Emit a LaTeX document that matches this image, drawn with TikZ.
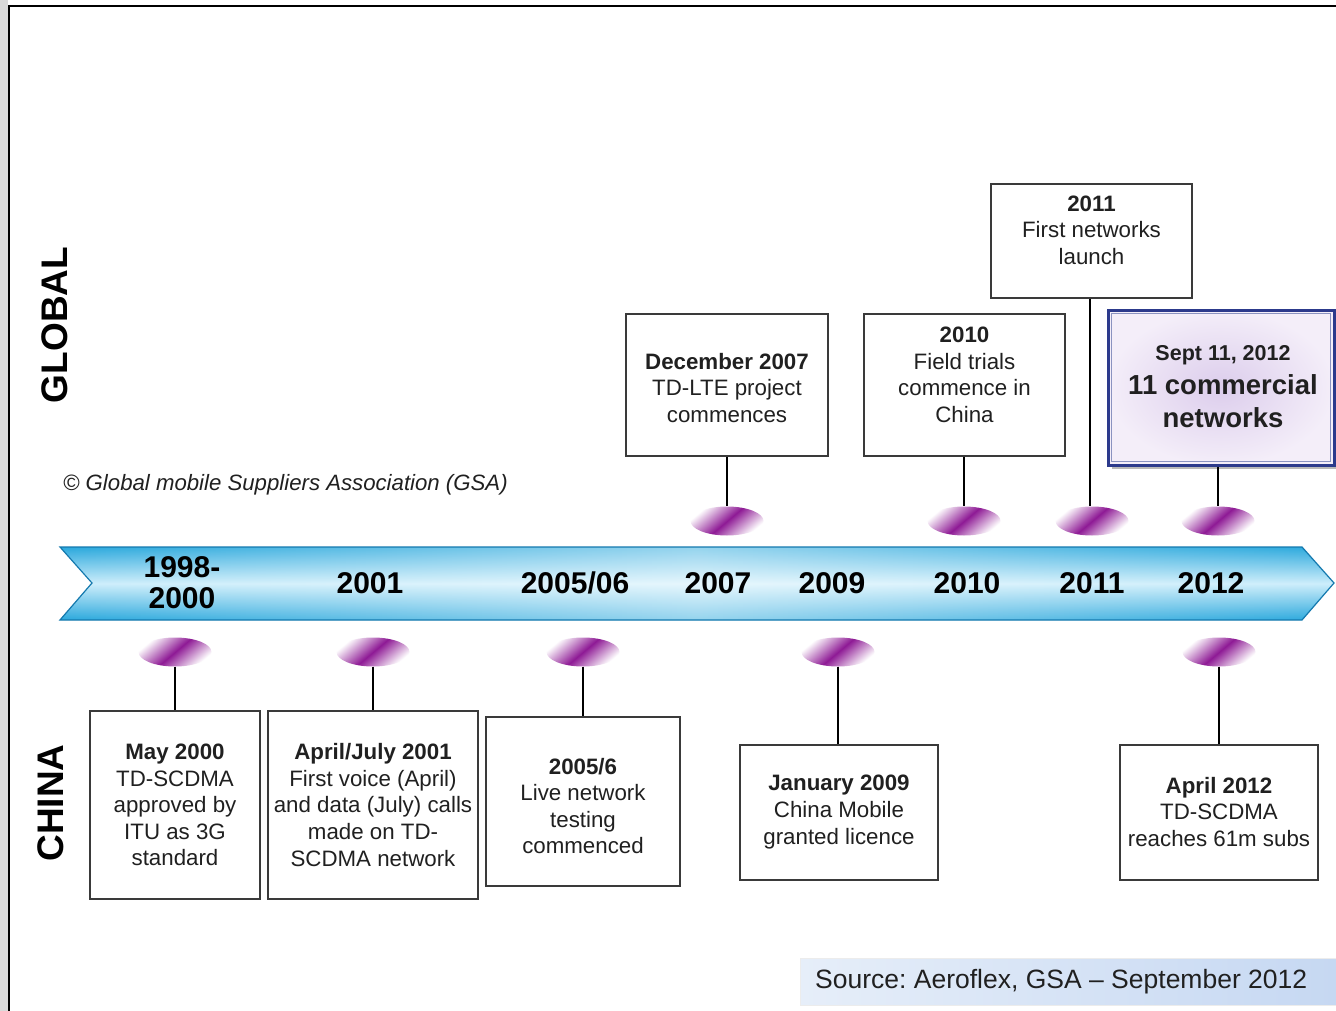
\documentclass[tikz,border=0pt]{standalone}
\usepackage{fontspec}
\setmainfont{Liberation Sans}
\usetikzlibrary{shapes.geometric,fadings}
\frenchspacing
\definecolor{bandblue}{HTML}{2AA8DD}
\definecolor{bandlight}{HTML}{CDEEFB}
\definecolor{bandedge}{HTML}{1479AE}
\definecolor{discpurple}{HTML}{8E1A95}
\definecolor{boxgrey}{HTML}{3A3A3A}
\definecolor{navyb}{HTML}{2C3A8C}
\definecolor{lav}{HTML}{DCCDEC}
\definecolor{lavout}{HTML}{F4EEF9}
\definecolor{srcleft}{HTML}{E6EEF9}
\definecolor{srcright}{HTML}{C6D8F2}
\definecolor{txtgrey}{HTML}{202020}
\tikzfading[name=midfade, left color=transparent!100, right color=transparent!100, middle color=transparent!50]
\begin{document}
\begin{tikzpicture}[x=1pt,y=-1pt,
  evbox/.style={draw=boxgrey, line width=1.6pt, fill=white, inner sep=0pt},
  evtext/.style={align=center, inner sep=0pt, text=txtgrey, font=\fontsize{22.3}{26.6}\selectfont},
  yeartext/.style={align=center, inner sep=0pt, font=\fontsize{30}{31}\selectfont\bfseries},
  disc/.style={ellipse, minimum width=73pt, minimum height=29pt, inner sep=0pt,
     top color=white, bottom color=white, middle color=discpurple, shading angle=40},
  conn/.style={draw=black, line width=1.8pt},
  sidelabel/.style={rotate=90, inner sep=0pt, font=\fontsize{37}{37}\selectfont\bfseries}
]
\useasboundingbox (0,0) rectangle (1336,1011);
\fill[white] (0,0) rectangle (1336,1011);
% window frame
\fill[gray!30] (0,0) rectangle (8,1011);
\draw[black, line width=1.6pt] (9,1011) -- (9,6) -- (1336,6);

% banner
\path[top color=bandblue, bottom color=bandblue, middle color=bandlight]
  (60,547) -- (1302,547) -- (1334,583) -- (1302,620) -- (60,620) -- (92,583) -- cycle;
\fill[white, path fading=midfade]
  (60,547) -- (1302,547) -- (1334,583) -- (1302,620) -- (60,620) -- (92,583) -- cycle;
\draw[bandedge, line width=1.2pt]
  (60,547) -- (1302,547) -- (1334,583) -- (1302,620) -- (60,620) -- (92,583) -- cycle;

% year labels
\node[yeartext] (y1998) at (182,583) {1998-\\2000};
\node[yeartext] (y2001) at (370,583) {2001};
\node[yeartext] (y2005) at (575,583) {2005/06};
\node[yeartext] (y2007) at (718,583) {2007};
\node[yeartext] (y2009) at (832,583) {2009};
\node[yeartext] (y2010) at (967,583) {2010};
\node[yeartext] (y2011) at (1092,583) {2011};
\node[yeartext] (y2012) at (1211,583) {2012};

% side labels
\node[sidelabel] (global) at (55,325) {GLOBAL};
\node[sidelabel] (china) at (51,803) {CHINA};

% copyright
\node[anchor=west, inner sep=0pt, text=txtgrey, font=\fontsize{22.2}{24}\selectfont\itshape] (copy) at (63,485)
  {© Global mobile Suppliers Association (GSA)};

% discs above
\node[disc] (d2007) at (727,521) {};
\node[disc] (d2010) at (964,521) {};
\node[disc] (d2011) at (1092,521) {};
\node[disc] (d2012g) at (1218,521) {};
% discs below
\node[disc] (dMay) at (175,652) {};
\node[disc] (dApr) at (373,652) {};
\node[disc] (d2005) at (583,652) {};
\node[disc] (dJan) at (838,652) {};
\node[disc] (dApr12) at (1219,652) {};

% global boxes
\node[evbox, minimum width=202pt, minimum height=142pt] (b2007) at (727,385) {};
\node[evtext] (t2007) at (727,388) {\textbf{December 2007}\\TD-LTE project\\commences};
\node[evbox, minimum width=201pt, minimum height=142pt] (b2010) at (964.5,385) {};
\node[evtext] (t2010) at (964.5,375) {\textbf{2010}\\Field trials\\commence in\\China};
\node[evbox, minimum width=201pt, minimum height=114pt] (b2011) at (1091.5,241) {};
\node[evtext] (t2011) at (1091.5,230) {\textbf{2011}\\First networks\\launch};

\fill[gray!55] (1112,314) rectangle (1338,469);
\node[draw=navyb, line width=3pt, inner color=lav, outer color=lavout, inner sep=0pt,
  minimum width=226pt, minimum height=155pt] (b2012g) at (1221,387.5) {};
\draw[navyb!55, line width=0.8pt] ([shift={(5,5)}]b2012g.north west) rectangle ([shift={(-5,-5)}]b2012g.south east);
\node[align=center, inner sep=0pt, text=txtgrey, font=\fontsize{27.5}{33.5}\selectfont\bfseries] (t2012g) at (1223,387)
  {{\fontsize{21.5}{26}\selectfont Sept 11, 2012}\\11 commercial\\networks};

% china boxes
\node[evbox, minimum width=170pt, minimum height=188pt] (bMay) at (175,805) {};
\node[evtext] (tMay) at (175,805) {\textbf{May 2000}\\TD-SCDMA\\approved by\\ITU as 3G\\standard};
\node[evbox, minimum width=210pt, minimum height=188pt] (bApr) at (373,805) {};
\node[evtext] (tApr) at (373,805) {\textbf{April/July 2001}\\First voice (April)\\and data (July) calls\\made on TD-\\SCDMA network};
\node[evbox, minimum width=194pt, minimum height=169pt] (b2005) at (583,801.5) {};
\node[evtext] (t2005) at (583,806) {\textbf{2005/6}\\Live network\\testing\\commenced};
\node[evbox, minimum width=198pt, minimum height=135pt] (bJan) at (839,812.5) {};
\node[evtext] (tJan) at (839,812) {\textbf{January 2009}\\China Mobile\\granted licence};
\node[evbox, minimum width=198pt, minimum height=135pt] (bApr12) at (1219,812.5) {};
\node[evtext] (tApr12) at (1219,812) {\textbf{April 2012}\\TD-SCDMA\\reaches 61m subs};

% connectors
\draw[conn] (b2007.south) -- (d2007.north);
\draw[conn] (b2010.south -| d2010.north) -- (d2010.north);
\draw[conn] (b2011.south -| 1090,0) -- (d2011.north -| 1090,0);
\draw[conn] (b2012g.south -| d2012g.north) -- (d2012g.north);
\draw[conn] (dMay.south) -- (bMay.north -| dMay.south);
\draw[conn] (dApr.south) -- (bApr.north -| dApr.south);
\draw[conn] (d2005.south) -- (b2005.north -| d2005.south);
\draw[conn] (dJan.south) -- (bJan.north -| dJan.south);
\draw[conn] (dApr12.south) -- (bApr12.north -| dApr12.south);

% source
\node[left color=srcleft, right color=srcright, draw=white!85!gray, line width=0.8pt, inner sep=0pt,
  minimum width=536pt, minimum height=47pt] (srcbox) at (1068,981.5) {};
\node[anchor=west, inner sep=0pt, text=txtgrey, font=\fontsize{26.5}{28}\selectfont] (srctext) at (815,982)
  {Source: Aeroflex, GSA – September 2012};
\end{tikzpicture}
\end{document}
